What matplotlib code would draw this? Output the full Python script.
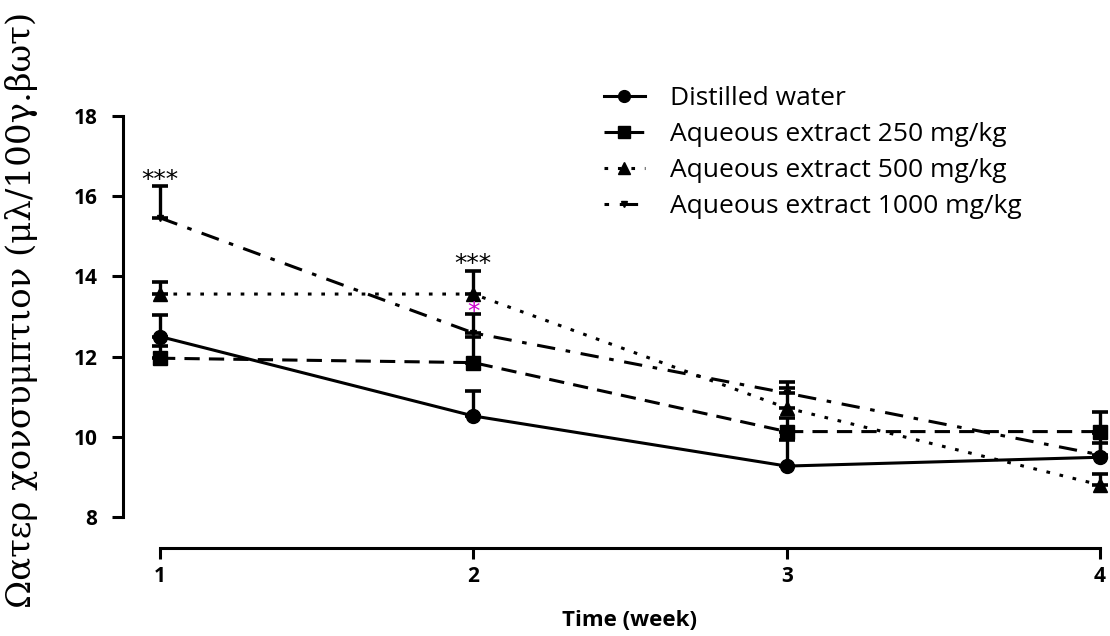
import matplotlib
matplotlib.use("Agg")
import matplotlib.pyplot as plt
from matplotlib.lines import Line2D
import numpy as np

weeks = [1, 2, 3, 4]
water = [12.50, 10.52, 9.27, 9.49]
water_err = [0.54, 0.63, 0.65, 0.60]
e250 = [11.96, 11.85, 10.13, 10.13]
e250_err = [0.30, 0.64, 0.34, 0.50]
e500 = [13.56, 13.56, 10.72, 8.80]
e500_err = [0.31, 0.58, 0.50, 0.27]
e1000 = [15.46, 12.59, 11.09, 9.55]
e1000_err = [0.79, 0.47, 0.28, 0.30]
labels = ["Distilled water", "Aqueous extract 250 mg/kg",
          "Aqueous extract 500 mg/kg", "Aqueous extract 1000 mg/kg"]
yticks = [8, 10, 12, 14, 16, 18]
xticks = [1, 2, 3, 4]
ylabel = "Ωατερ χονσυμπτιον (μλ/100γ.βωτ)"
xlabel = "Time (week)"

plt.rcParams['font.family'] = ['Open Sans', 'DejaVu Sans']

W, H = 1110, 636
fig = plt.figure(figsize=(W/100, H/100), dpi=100)
ax = fig.add_axes([160/W, 1-517/H, (1100-160)/W, (517-116)/H])
ax.set_xlim(1, 4)
ax.set_ylim(8, 18)

series = [
    (e1000, e1000_err, 'v', 5, (0, (6, 3.5, 1.5, 3.5)), (9.5, (6, 3.5, 1.5, 3.5)), labels[3]),
    (e500, e500_err, '^', 10, (0, (1.2, 3.2)), (0, (1.2, 3.2)), labels[2]),
    (e250, e250_err, 's', 10, (0, (5, 3)), (0, (5, 3)), labels[1]),
    (water, water_err, 'o', 10, '-', '-', labels[0]),
]
handles = {}
for y, err, m, ms, ls, lls, lab in series:
    yerr = [np.zeros(len(err)), np.array(err)]
    ax.errorbar(weeks, y, yerr=yerr, color='black', marker=m, markersize=ms,
                linestyle=ls, linewidth=2.2, elinewidth=2.4, capsize=6,
                capthick=2.6, clip_on=False)
    handles[lab] = Line2D([], [], color='black', marker=m,
                          markersize=ms * 0.85, linestyle=lls, linewidth=2.2)
for child in ax.get_children():
    try:
        child.set_clip_on(False)
    except Exception:
        pass

for s in ['top', 'right']:
    ax.spines[s].set_visible(False)
ax.spines['left'].set_position(('outward', 27))
ax.spines['bottom'].set_position(('outward', 22.5))
ax.spines['left'].set_bounds(8, 18)
ax.spines['bottom'].set_bounds(1, 4)
ax.spines['left'].set_linewidth(2.2)
ax.spines['bottom'].set_linewidth(2.2)
ax.set_yticks(yticks)
ax.set_xticks(xticks)
ax.set_yticklabels([str(v) for v in yticks], fontsize=15, fontweight='bold')
ax.set_xticklabels([str(v) for v in xticks], fontsize=15, fontweight='bold')
ax.tick_params(axis='both', width=2.2, length=8, direction='out')
ax.tick_params(axis='y', pad=10)
ax.tick_params(axis='x', pad=5)

ax.text(1, 16.40, "***", ha='center', va='center', fontsize=18, family='DejaVu Sans')
ax.text(2, 14.30, "***", ha='center', va='center', fontsize=18, family='DejaVu Sans')
ax.text(2, 13.12, "*", ha='center', va='center', fontsize=18, color='#cc00cc', family='DejaVu Sans')

leg = ax.legend([handles[l] for l in labels], labels, loc='upper left',
                bbox_to_anchor=(604/W, 1-86/H), bbox_transform=fig.transFigure,
                frameon=False, fontsize=19, handlelength=1.55, handletextpad=0.95,
                labelspacing=0.42, borderpad=0, borderaxespad=0)

fig.text(22/W, 1-310/H, ylabel, rotation=90, ha='center', va='center',
         fontsize=24.5, family='DejaVu Serif')
fig.text(630/W, 1-620/H, xlabel, ha='center', va='center', fontsize=16,
         fontweight='bold')

fig.savefig("out.png", dpi=100)
